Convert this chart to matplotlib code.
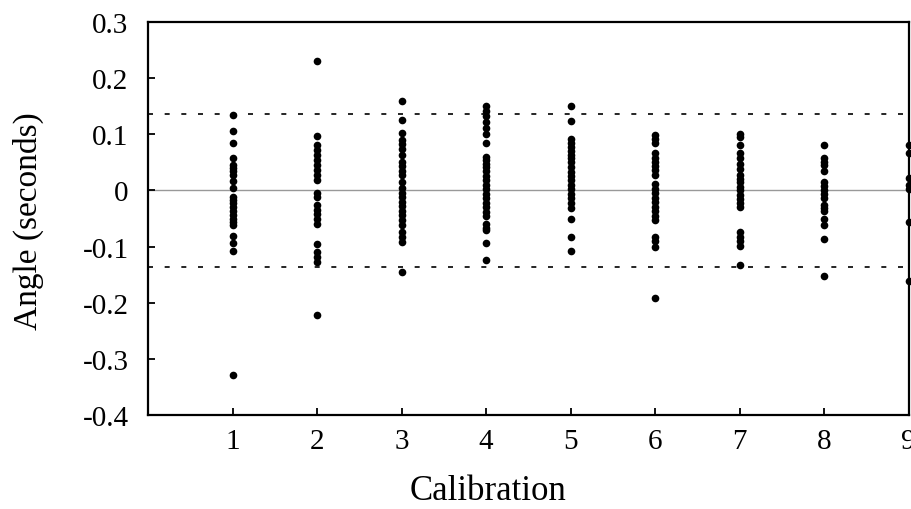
import matplotlib.pyplot as plt

plt.rcParams['font.family'] = ['Liberation Serif', 'DejaVu Serif']

# angle deviations (seconds) read per calibration run
cal1 = [0.135, 0.106, 0.085, 0.057, 0.046, 0.040, 0.034, 0.027, 0.017, 0.005,
        -0.011, -0.017, -0.023, -0.029, -0.036, -0.043, -0.050, -0.056, -0.062,
        -0.081, -0.093, -0.108, -0.329]
cal2 = [0.230, 0.097, 0.081, 0.072, 0.063, 0.054, 0.045, 0.036, 0.027, 0.018,
        -0.005, -0.011, -0.026, -0.034, -0.042, -0.050, -0.059, -0.096,
        -0.109, -0.118, -0.127, -0.222]
cal3 = [0.160, 0.125, 0.103, 0.090, 0.082, 0.074, 0.064, 0.051, 0.043, 0.035,
        0.027, 0.015, 0.004, -0.004, -0.012, -0.020, -0.028, -0.036, -0.044,
        -0.052, -0.062, -0.074, -0.082, -0.091, -0.146]
cal4 = [0.150, 0.142, 0.132, 0.122, 0.112, 0.101, 0.085, 0.060, 0.054, 0.048,
        0.042, 0.034, 0.026, 0.018, 0.010, 0.002, -0.006, -0.014, -0.022,
        -0.030, -0.038, -0.046, -0.060, -0.066, -0.071, -0.093, -0.124]
cal5 = [0.150, 0.123, 0.091, 0.084, 0.077, 0.070, 0.063, 0.058, 0.050, 0.042,
        0.033, 0.026, 0.018, 0.010, 0.002, -0.006, -0.014, -0.022, -0.032,
        -0.050, -0.082, -0.107]
cal6 = [0.098, 0.091, 0.084, 0.066, 0.058, 0.050, 0.043, 0.036, 0.027, 0.011,
        0.003, -0.005, -0.013, -0.021, -0.029, -0.037, -0.045, -0.053,
        -0.082, -0.090, -0.100, -0.192]
cal7 = [0.101, 0.096, 0.081, 0.066, 0.057, 0.048, 0.039, 0.027, 0.021, 0.015,
        0.007, 0.001, -0.008, -0.015, -0.022, -0.029, -0.074, -0.082, -0.090,
        -0.098, -0.132]
cal8 = [0.081, 0.057, 0.051, 0.045, 0.034, 0.015, 0.008, 0.001, -0.006,
        -0.014, -0.025, -0.031, -0.037, -0.050, -0.062, -0.087, -0.152]
cal9 = [0.081, 0.066, 0.023, 0.009, 0.003, -0.056, -0.162]

runs = [cal1, cal2, cal3, cal4, cal5, cal6, cal7, cal8, cal9]
upper_limit = 0.136
lower_limit = -0.137

yticks = [0.3, 0.2, 0.1, 0, -0.1, -0.2, -0.3, -0.4]
ylabels = ['0.3', '0.2', '0.1', '0', '-0.1', '-0.2', '-0.3', '-0.4']
xticks = [1, 2, 3, 4, 5, 6, 7, 8, 9]

fig = plt.figure(figsize=(9.11, 5.10), dpi=100)
ax = fig.add_axes([0.1625, 0.184, 0.835, 0.771])

ax.axhline(0, color='#999999', lw=1.0, zorder=1)
ax.axhline(upper_limit, color='black', lw=1.2, ls=(0, (3, 7)), zorder=1)
ax.axhline(lower_limit, color='black', lw=1.2, ls=(0, (3, 7)), zorder=1)

for i, vals in enumerate(runs):
    ax.plot([i + 1] * len(vals), vals, 'o', color='black', ms=5.5,
            mew=0, clip_on=False, zorder=3)

ax.set_xlim(0, 9)
ax.set_ylim(-0.4, 0.3)
ax.set_xticks(xticks)
ax.set_xticklabels([str(x) for x in xticks])
ax.set_yticks(yticks)
ax.set_yticklabels(ylabels)
ax.tick_params(direction='in', length=5, width=1.3, labelsize=21,
               top=False, right=False)
ax.tick_params(axis='y', pad=14)
ax.tick_params(axis='x', pad=9)
for sp in ax.spines.values():
    sp.set_linewidth(1.6)

fig.text(488 / 911, 2 / 510, 'Calibration', fontsize=25,
         ha='center', va='bottom')
fig.text(28 / 911, 1 - 221 / 510, 'Angle (seconds)', fontsize=24,
         rotation=90, ha='center', va='center')

fig.savefig('out.png', dpi=100)
